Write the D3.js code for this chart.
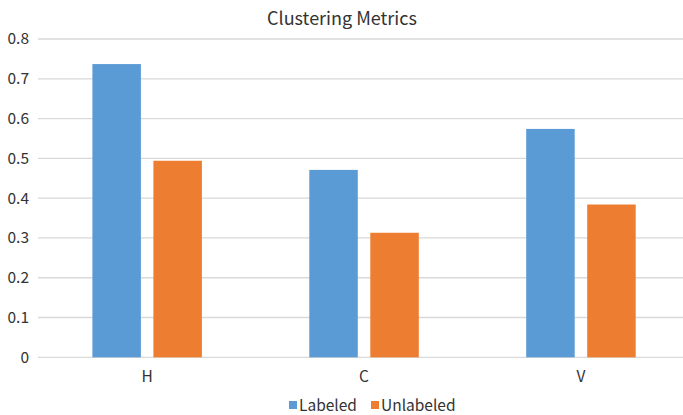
<!DOCTYPE html>
<html lang="en">
<head>
    <meta charset="UTF-8">
    <title>Clustering Metrics</title>
    <script src="https://d3js.org/d3.v7.min.js"></script>
    <style>
        body { margin: 0; background: #fff; }
        svg { display: block; font-family: "Noto Sans CJK SC", "Noto Sans", sans-serif; }
    </style>
</head>
<body>
    <svg></svg>

    <script>
        const w = 683;
        const h = 415;

        const categories = ["H", "C", "V"];
        const series = ["Labeled", "Unlabeled"];
        const labeled = [0.737, 0.471, 0.574];
        const unlabeled = [0.494, 0.313, 0.384];
        const yTicks = [0, 0.1, 0.2, 0.3, 0.4, 0.5, 0.6, 0.7, 0.8];
        const colors = ["#5B9BD5", "#ED7D31"];

        const values = [labeled, unlabeled];

        const svg = d3.select("svg")
            .attr("width", w)
            .attr("height", h);

        const y = d3.scaleLinear()
            .domain([0, 0.8])
            .range([357.3, 39]);

        const x0 = d3.scaleBand()
            .domain(categories)
            .range([38.7, 689.4]);

        const groupW = 109.5;
        const x1 = d3.scaleBand()
            .domain(series)
            .range([0, groupW])
            .paddingInner(0.205);

        // gridlines
        svg.append("g")
            .selectAll("line")
            .data(yTicks)
            .enter()
            .append("line")
                .attr("x1", 38)
                .attr("x2", w)
                .attr("y1", d => y(d))
                .attr("y2", d => y(d))
                .attr("stroke", "#d9d9d9")
                .attr("stroke-width", 1.3);

        // y labels
        svg.append("g")
            .selectAll("text")
            .data(yTicks)
            .enter()
            .append("text")
                .attr("x", 29)
                .attr("y", d => y(d))
                .attr("dy", "0.35em")
                .attr("text-anchor", "end")
                .attr("font-size", 15.5)
                .attr("fill", "#333")
                .text(d => d === 0 ? "0" : d.toFixed(1));

        // bars
        series.forEach((s, si) => {
            svg.append("g")
                .selectAll("rect")
                .data(categories)
                .enter()
                .append("rect")
                    .attr("x", c => x0(c) + (x0.bandwidth() - groupW) / 2 + x1(s))
                    .attr("width", x1.bandwidth())
                    .attr("y", (c, i) => y(values[si][i]))
                    .attr("height", (c, i) => y(0) - y(values[si][i]))
                    .attr("fill", colors[si]);
        });

        // x labels
        svg.append("g")
            .selectAll("text")
            .data(categories)
            .enter()
            .append("text")
                .attr("x", c => x0(c) + x0.bandwidth() / 2)
                .attr("y", 382)
                .attr("text-anchor", "middle")
                .attr("font-size", 15.5)
                .attr("fill", "#333")
                .text(c => c);

        // title
        svg.append("text")
            .attr("x", 342)
            .attr("y", 25)
            .attr("text-anchor", "middle")
            .attr("font-size", 18)
            .attr("fill", "#333")
            .text("Clustering Metrics");

        // legend
        const legendX = [289, 371];
        const legend = svg.append("g")
            .selectAll("g")
            .data(series)
            .enter()
            .append("g")
                .attr("transform", (d, i) => `translate(${legendX[i]}, 401)`);

        legend.append("rect")
            .attr("width", 8)
            .attr("height", 8)
            .attr("fill", (d, i) => colors[i]);

        legend.append("text")
            .attr("x", 10)
            .attr("y", 9.5)
            .attr("font-size", 15.5)
            .attr("fill", "#333")
            .text(d => d);
    </script>
</body>
</html>
